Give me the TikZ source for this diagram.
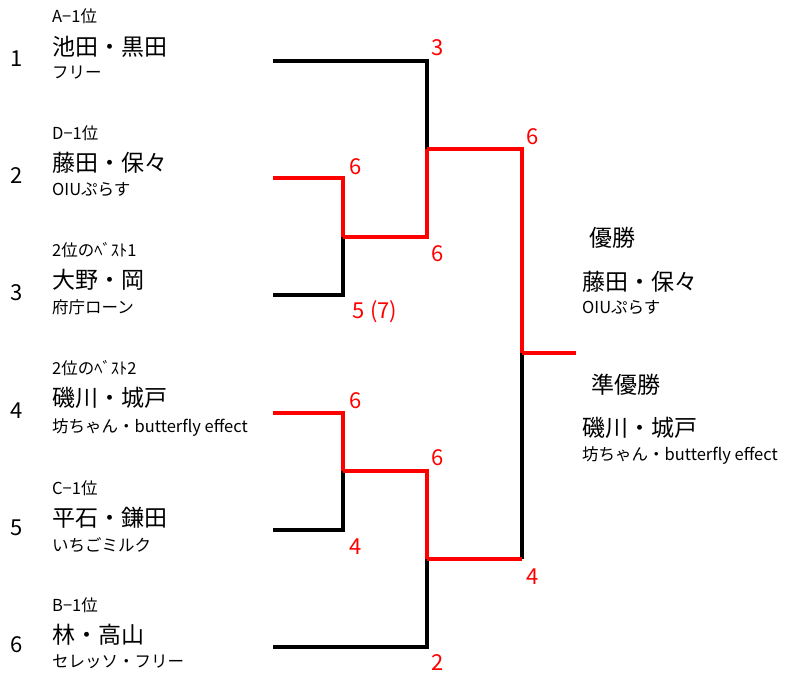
\documentclass[tikz,border=0pt]{standalone}
\usepackage{fontspec}
\setmainfont{Noto Sans CJK JP}
\usepackage{xcolor}

\tikzset{
  win/.style={draw=red, line width=3.2pt},
  lose/.style={draw=black, line width=3.2pt},
  score/.style={text=red, font=\fontsize{22}{22}\selectfont, inner sep=0pt},
  seed/.style={font=\fontsize{22}{22}\selectfont, inner sep=0pt},
  grp/.style={anchor=west, font=\fontsize{16.5}{16.5}\selectfont, inner sep=0pt},
  pair/.style={anchor=west, font=\fontsize{23}{23}\selectfont, inner sep=0pt},
  team/.style={anchor=west, font=\fontsize{16.5}{16.5}\selectfont, inner sep=0pt},
}

\begin{document}
\begin{tikzpicture}[x=1pt,y=-1pt]
\useasboundingbox (0,0) rectangle (806,679);
% bracket points
\coordinate (s1) at (273,61);
\coordinate (s2) at (273,178);
\coordinate (s3) at (273,295);
\coordinate (s4) at (273,413);
\coordinate (s5) at (273,530);
\coordinate (s6) at (273,647);
\coordinate (r1) at (343,237);
\coordinate (r2) at (343,471);
\coordinate (q1) at (427,149);
\coordinate (q2) at (427,559);
\coordinate (fin) at (522,353);
\coordinate (fin2) at (522,559);
\coordinate (champ) at (576,353);
% losing lines
\draw [lose] (s1) -| (q1);
\draw [lose] (s3) -| (r1);
\draw [lose] (s5) -| (r2);
\draw [lose] (s6) -| (q2);
\draw [lose] (fin2) -- (fin);
% winning lines
\draw [win] (s2) -| (r1);
\draw [win] (r1) -| (q1);
\draw [win] (q1) -| (fin);
\draw [win] (fin) -- (champ);
\draw [win] (s4) -| (r2);
\draw [win] (r2) -| (q2);
\draw [win] (q2) -- (fin2);
% scores
\node [score] (c1) at (438,48) {3};
\node [score] (c2) at (356,167) {6};
\node [score] (c3) at (375,312) {5 (7)};
\node [score] (c4) at (438,254) {6};
\node [score] (c5) at (533,137) {6};
\node [score] (c6) at (356,401) {6};
\node [score] (c7) at (356,547) {4};
\node [score] (c8) at (438,458) {6};
\node [score] (c9) at (438,663) {2};
\node [score] (c10) at (533,577) {4};
% entries
\node [seed] (n1) at (17,59) {1};
\node [grp] (g1) at (52,16) {A−1位};
\node [pair] (p1) at (52,47) {池田・黒田};
\node [team] (t1) at (52,73) {フリー};
\node [seed] (n2) at (17,176) {2};
\node [grp] (g2) at (52,133) {D−1位};
\node [pair] (p2) at (52,163) {藤田・保々};
\node [team] (t2) at (52,190) {OIUぷらす};
\node [seed] (n3) at (17,293) {3};
\node [grp] (g3) at (52,250) {2位のﾍﾞｽﾄ1};
\node [pair] (p3) at (52,280) {大野・岡};
\node [team] (t3) at (52,307) {府庁ローン};
\node [seed] (n4) at (17,411) {4};
\node [grp] (g4) at (52,368) {2位のﾍﾞｽﾄ2};
\node [pair] (p4) at (52,398) {磯川・城戸};
\node [team] (t4) at (52,427) {坊ちゃん・butterfly effect};
\node [seed] (n5) at (17,528) {5};
\node [grp] (g5) at (52,488) {C−1位};
\node [pair] (p5) at (52,518) {平石・鎌田};
\node [team] (t5) at (52,545) {いちごミルク};
\node [seed] (n6) at (17,645) {6};
\node [grp] (g6) at (52,605) {B−1位};
\node [pair] (p6) at (52,635) {林・高山};
\node [team] (t6) at (52,662) {セレッソ・フリー};
% results
\node [pair] (w0) at (589,238) {優勝};
\node [pair] (w1) at (582,282) {藤田・保々};
\node [team] (w2) at (582,308) {OIUぷらす};
\node [pair] (u0) at (591,385) {準優勝};
\node [pair] (u1) at (582,428) {磯川・城戸};
\node [team] (u2) at (582,455) {坊ちゃん・butterfly effect};
\end{tikzpicture}
\end{document}
